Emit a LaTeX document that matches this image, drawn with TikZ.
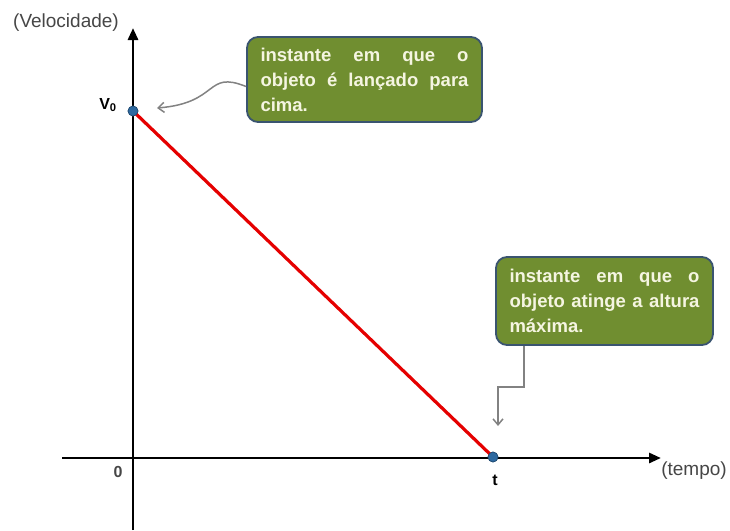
\documentclass[tikz,border=0pt]{standalone}
\usepackage{fontspec}
\setmainfont{Liberation Sans}
\usetikzlibrary{arrows.meta}
\definecolor{boxgreen}{RGB}{112,142,48}
\definecolor{boxedge}{RGB}{58,84,112}
\definecolor{boxtext}{RGB}{245,245,225}
\definecolor{dotblue}{RGB}{46,105,160}
\definecolor{linkgray}{RGB}{130,130,130}
\definecolor{lblgray}{RGB}{70,70,70}
\newcommand{\fullline}[2]{\leavevmode\hbox to #1{#2}}
\tikzset{
  axis/.style={line width=2.8pt, -{Triangle[length=12pt,width=10pt]}},
  callout/.style={draw=boxedge, line width=1.8pt, fill=boxgreen, rounded corners=11pt,
    text=boxtext, font=\bfseries\fontsize{18.5}{25}\selectfont, align=left,
    inner xsep=0pt, inner ysep=0pt},
  link/.style={draw=linkgray, line width=1.5pt, -{Straight Barb[length=6pt,width=10pt]}},
  pt/.style={circle, fill=dotblue, draw=dotblue!70!black, line width=0.6pt, inner sep=0pt, minimum size=10pt},
  lbl/.style={font=\bfseries\fontsize{16}{18}\selectfont},
  axlbl/.style={text=lblgray, font=\fontsize{19}{21}\selectfont}
}
\begin{document}
\begin{tikzpicture}[x=1pt,y=-1pt]
\useasboundingbox (0,0) rectangle (730,530);
% axes
\coordinate (ybot) at (133,530);
\coordinate (ytop) at (133,28);
\coordinate (xl) at (62,458);
\coordinate (xr) at (661,458);
\draw[axis] (ybot) -- (ytop);
\draw[axis] (xl) -- (xr);
% labels
\node[axlbl] (vel) at (66,23) {(Velocidade)};
\node[axlbl] (tempo) at (694,471) {(tempo)};
\node[text=lblgray, lbl] (zero) at (118,472) {0};
\node[lbl] (tl) at (495,480) {t};
\node[lbl] (vl) at (108,105) {V$_{\mathbf 0}$};
% line
\node[pt] (v0) at (133,111) {};
\node[pt] (tp) at (493,457) {};
\draw[red!90!black, line width=3.2pt] (v0.center) -- (tp.center);
\node[pt] at (133,111) {};
\node[pt] at (493,457) {};
% callouts
\node[callout, text width=208pt, minimum width=235pt, minimum height=85pt] (b1) at (364.5,79.5)
  {\fullline{208pt}{instante\hfill em\hfill que\hfill o}\\\fullline{208pt}{objeto\hfill é\hfill lançado\hfill para}\\cima.};
\node[callout, text width=190pt, minimum width=217pt, minimum height=88pt] (b2) at (604.5,301)
  {\fullline{190pt}{instante\hfill em\hfill que\hfill o}\\\fullline{190pt}{objeto\hfill atinge\hfill a\hfill altura}\\máxima.};
% connectors
\coordinate (a1) at (157,108);
\draw[link] ([yshift=-7pt]b1.west) .. controls (205,70) and (220,103) .. (a1);
\coordinate (c2) at (524,345);
\coordinate (a2) at (498,426);
\draw[link] (b2.south -| c2) -- (524,387) -- (498,387) -- (a2);
\end{tikzpicture}
\end{document}
